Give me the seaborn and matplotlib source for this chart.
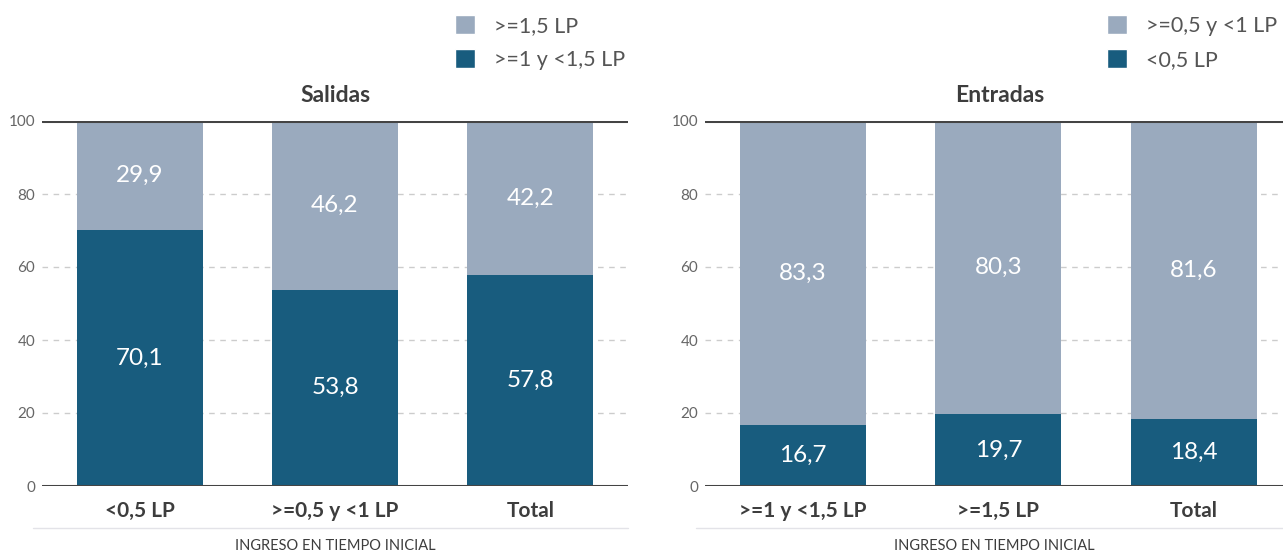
import seaborn as sns
import matplotlib.pyplot as plt
import pandas as pd
from matplotlib.patches import Patch

# Salidas
sal_cats = ['<0,5 LP', '>=0,5 y <1 LP', 'Total']
sal_low = [70.1, 53.8, 57.8]      # >=1 y <1,5 LP
sal_high = [29.9, 46.2, 42.2]     # >=1,5 LP
sal_labels = ['>=1,5 LP', '>=1 y <1,5 LP']

# Entradas
ent_cats = ['>=1 y <1,5 LP', '>=1,5 LP', 'Total']
ent_low = [16.7, 19.7, 18.4]      # <0,5 LP
ent_high = [83.3, 80.3, 81.6]     # >=0,5 y <1 LP
ent_labels = ['>=0,5 y <1 LP', '<0,5 LP']

titles = ['Salidas', 'Entradas']
xlabel = 'INGRESO EN TIEMPO INICIAL'
yticks = [0, 20, 40, 60, 80, 100]

light = '#9aaabe'
dark = '#185c7e'
text_dark = '#3d3d3d'
text_grey = '#666666'

sns.set_theme(style='white')
plt.rcParams['font.family'] = ['Lato', 'DejaVu Sans']

fig = plt.figure(figsize=(12.83, 5.52), dpi=100)
W, H = 1283, 552
ax1 = fig.add_axes([42 / W, 1 - 486 / H, 586 / W, 365 / H])
ax2 = fig.add_axes([705 / W, 1 - 486 / H, 578 / W, 365 / H])


def panel(ax, cats, low, high, title, xmax):
    df = pd.DataFrame({'cat': cats, 'low': low,
                       'total': [a + b for a, b in zip(low, high)]})
    sns.barplot(data=df, x='cat', y='total', order=cats, color=light,
                width=0.645, saturation=1, linewidth=0, ax=ax, zorder=2)
    sns.barplot(data=df, x='cat', y='low', order=cats, color=dark,
                width=0.645, saturation=1, linewidth=0, ax=ax, zorder=3)
    for i, (a, b) in enumerate(zip(low, high)):
        ax.text(i, a / 2, f'{a:.1f}'.replace('.', ','), ha='center', va='center',
                color='white', fontsize=17.5, zorder=4)
        ax.text(i, a + b / 2, f'{b:.1f}'.replace('.', ','), ha='center', va='center',
                color='white', fontsize=17.5, zorder=4)
    ax.set_xlim(-0.5, xmax)
    ax.set_ylim(0, 100)
    ax.set_yticks(yticks)
    ax.tick_params(axis='y', labelsize=11, labelcolor=text_grey, length=0, pad=5)
    ax.tick_params(axis='x', labelsize=15, labelcolor=text_dark, length=0, pad=11)
    for lab in ax.get_xticklabels():
        lab.set_fontweight('bold')
    for s in ax.spines.values():
        s.set_visible(False)
    for v in yticks[1:-1]:
        ax.axhline(v, color='#cccccc', lw=1, ls=(0, (4, 4)), zorder=1)
    ax.axhline(100, color='#444444', lw=2.2, zorder=5)
    ax.axhline(0, color='#444444', lw=2.2, zorder=5)
    ax.set_xlabel('')
    ax.set_ylabel('')
    ax.plot([-0.015, 1], [-0.115, -0.115], transform=ax.transAxes, color='#e3e3e8',
            lw=1, clip_on=False)
    ax.text(0.5, -0.165, xlabel, transform=ax.transAxes, ha='center', va='center',
            fontsize=10.5, color=text_dark)
    ax.set_title(title, fontsize=16.5, fontweight='bold', color=text_dark, pad=14)


panel(ax1, sal_cats, sal_low, sal_high, titles[0], 2.5)
panel(ax2, ent_cats, ent_low, ent_high, titles[1], 2.456)
ax2.title.set_position((0.5 + (1000 - 994) / 578, 1))


def legend(ax, labels, x):
    handles = [Patch(facecolor=light, label=labels[0]),
               Patch(facecolor=dark, label=labels[1])]
    ax.legend(handles=handles, loc='upper left', bbox_to_anchor=(x / W, 1 - 15 / H),
              bbox_transform=fig.transFigure, frameon=False, fontsize=15.5,
              handlelength=0.95, handleheight=1.0, handletextpad=0.85,
              labelspacing=0.6, borderpad=0, borderaxespad=0,
              labelcolor='#555555')


legend(ax1, sal_labels, 455)
legend(ax2, ent_labels, 1107)

fig.savefig('out.png', dpi=100)
